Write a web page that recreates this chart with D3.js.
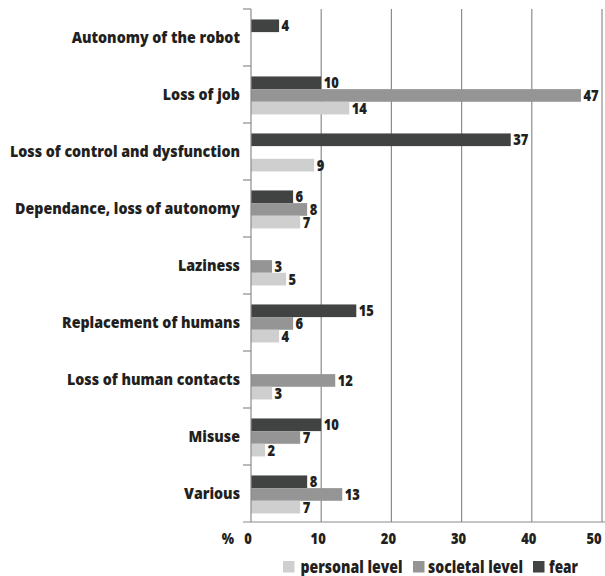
<!DOCTYPE html>
<html>
<head>
<meta charset="utf-8">
<script src="https://cdn.jsdelivr.net/npm/d3@7"></script>
<style>
  body { margin: 0; background: #fff; }
  svg { display: block; font-family: "Open Sans", Lato, sans-serif; font-weight: 800; }
</style>
</head>
<body>
<div id="chart"></div>
<script>
// categories, top to bottom
const categories = [
    "Autonomy of the robot",
    "Loss of job",
    "Loss of control and dysfunction",
    "Dependance, loss of autonomy",
    "Laziness",
    "Replacement of humans",
    "Loss of human contacts",
    "Misuse",
    "Various"
];

// series drawn inside each band, top to bottom (null = no bar)
const series = ["fear", "societal level", "personal level"];
const fear     = [4, 10, 37, 6, null, 15, null, 10, 8];
const societal = [null, 47, null, 8, 3, 6, 12, 7, 13];
const personal = [null, 14, 9, 7, 5, 4, 3, 2, 7];

const xTicks = [0, 10, 20, 30, 40, 50];
const legendOrder = ["personal level", "societal level", "fear"];

const colors = {
    "fear": "#414342",
    "societal level": "#949594",
    "personal level": "#cecfce"
};

const width = 605;
const height = 576;
const margin = {top: 9, right: 3, bottom: 54, left: 251};
const textColor = "#231f20";
const lineColor = "#8c8c8c";

const svg = d3.select("#chart")
    .append("svg")
    .attr("width", width)
    .attr("height", height);

// The original uses a condensed bold face; squeeze glyphs horizontally
function condense(sel, factor) {
    sel.each(function() {
        const w = this.getComputedTextLength();
        d3.select(this)
            .attr("textLength", w * factor)
            .attr("lengthAdjust", "spacingAndGlyphs");
    });
}

// Scales
const x = d3.scaleLinear()
    .domain([0, 50])
    .range([margin.left, width - margin.right]);

const y = d3.scaleBand()
    .domain(categories)
    .range([margin.top, height - margin.bottom]);

const ySub = d3.scaleBand()
    .domain(series)
    .range([0, y.bandwidth()])
    .paddingOuter(0.75)
    .align(0.55);

// Vertical gridlines
svg.append("g")
    .selectAll("line")
    .data(xTicks.filter(d => d > 0))
    .join("line")
    .attr("x1", d => x(d))
    .attr("x2", d => x(d))
    .attr("y1", margin.top)
    .attr("y2", height - margin.bottom)
    .attr("stroke", lineColor)
    .attr("stroke-width", 1.2);

// Bars
const rows = categories.map((c, i) => ({
    category: c,
    values: {"fear": fear[i], "societal level": societal[i], "personal level": personal[i]}
}));

const group = svg.append("g")
    .selectAll("g")
    .data(rows)
    .join("g")
    .attr("transform", d => `translate(0,${y(d.category)})`);

const cells = group.selectAll("g")
    .data(d => series.filter(s => d.values[s] != null).map(s => ({key: s, value: d.values[s]})))
    .join("g");

cells.append("rect")
    .attr("x", x(0))
    .attr("y", d => ySub(d.key))
    .attr("width", d => x(d.value) - x(0))
    .attr("height", ySub.bandwidth())
    .attr("fill", d => colors[d.key]);

const valueLabels = cells.append("text")
    .attr("x", d => x(d.value) + 2.5)
    .attr("y", d => ySub(d.key) + ySub.bandwidth() / 2)
    .attr("dy", "0.36em")
    .attr("font-size", 15)
    .attr("fill", textColor)
    .text(d => d.value);

// Y axis line and ticks
svg.append("line")
    .attr("x1", x(0))
    .attr("x2", x(0))
    .attr("y1", margin.top)
    .attr("y2", height - margin.bottom)
    .attr("stroke", lineColor)
    .attr("stroke-width", 1.2);

svg.append("g")
    .selectAll("line")
    .data(d3.range(categories.length))
    .join("line")
    .attr("x1", x(0) - 8)
    .attr("x2", x(0))
    .attr("y1", i => y(categories[i]))
    .attr("y2", i => y(categories[i]))
    .attr("stroke", lineColor)
    .attr("stroke-width", 1.2);

// Bottom axis line
svg.append("line")
    .attr("x1", x(0) - 8)
    .attr("x2", width)
    .attr("y1", height - margin.bottom)
    .attr("y2", height - margin.bottom)
    .attr("stroke", lineColor)
    .attr("stroke-width", 1.2);

// Category labels
const catLabels = svg.append("g")
    .selectAll("text")
    .data(categories)
    .join("text")
    .attr("x", 240)
    .attr("y", d => y(d) + y.bandwidth() / 2)
    .attr("dy", "0.36em")
    .attr("text-anchor", "end")
    .attr("font-size", 16.5)
    .attr("fill", textColor)
    .text(d => d);

// widest label is 230px wide in the original
let widest = 0;
catLabels.each(function() { widest = Math.max(widest, this.getComputedTextLength()); });
const factor = Math.min(1, 230 / widest);

// X tick labels
const tickLabels = svg.append("g")
    .selectAll("text")
    .data(xTicks)
    .join("text")
    .attr("x", d => Math.min(x(d) - 3, 594))
    .attr("y", 544)
    .attr("text-anchor", "middle")
    .attr("font-size", 15)
    .attr("fill", textColor)
    .text(d => d);

const pct = svg.append("text")
    .attr("x", 228)
    .attr("y", 544)
    .attr("text-anchor", "middle")
    .attr("font-size", 15)
    .attr("fill", textColor)
    .text("%");

// Legend
const legendX = [283, 413, 533];
const legend = svg.append("g")
    .selectAll("g")
    .data(legendOrder)
    .join("g")
    .attr("transform", (d, i) => `translate(${legendX[i]},561)`);

legend.append("rect")
    .attr("width", 11.5)
    .attr("height", 11.5)
    .attr("fill", d => colors[d]);

const legendText = legend.append("text")
    .attr("x", (d, i) => [17.5, 15, 16][i])
    .attr("y", 11.5)
    .attr("font-size", 17)
    .attr("fill", textColor)
    .text(d => d);

[catLabels, valueLabels, tickLabels, pct].forEach(s => condense(s, factor));
// legend texts: match the original widths
const legendWidths = [102, 95, 29];
legendText
    .attr("textLength", (d, i) => legendWidths[i])
    .attr("lengthAdjust", "spacingAndGlyphs");
</script>
</body>
</html>
